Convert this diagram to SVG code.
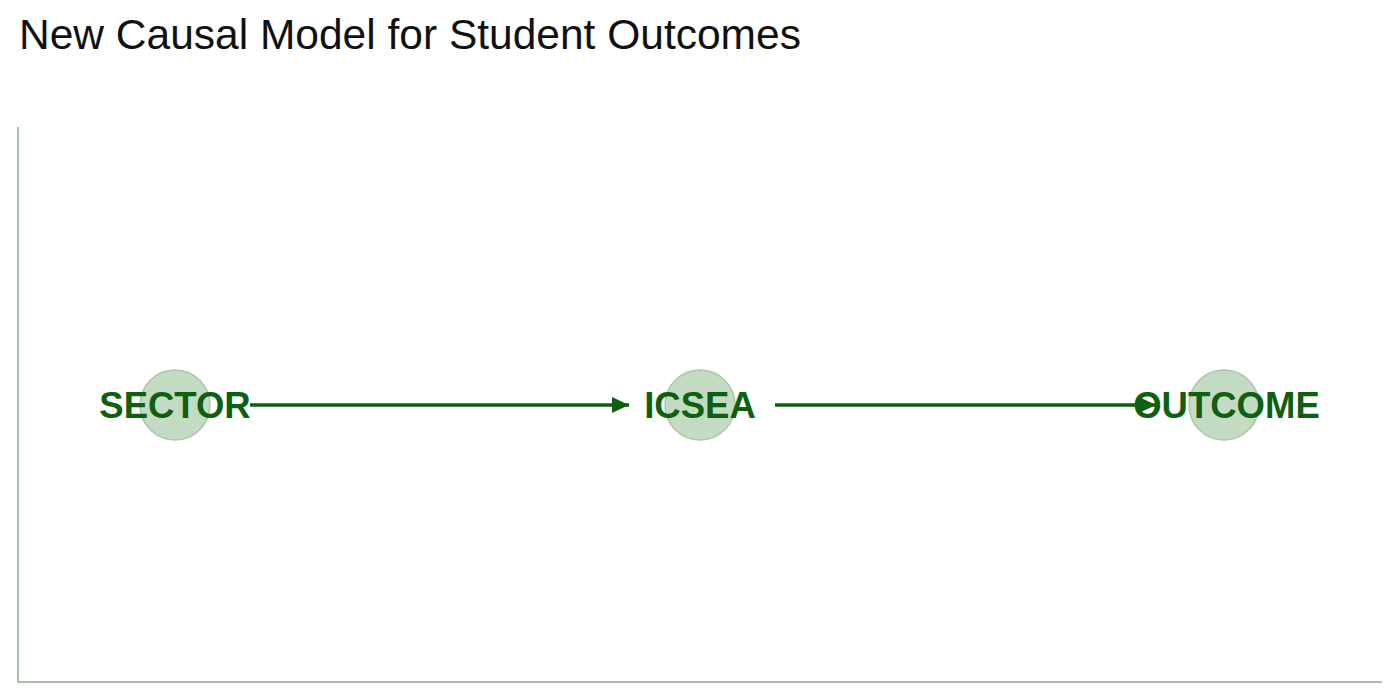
<svg xmlns="http://www.w3.org/2000/svg" width="1400" height="700" viewBox="0 0 1400 700">
<style>
.title{font-family:"Liberation Sans",Arial,sans-serif;font-size:42.5px;fill:#111}
.node circle{fill:#c3dbc3;stroke:#a9c7a9;stroke-width:1.5}
.node text{font-family:"Liberation Sans",Arial,sans-serif;font-size:36.5px;font-weight:bold;fill:#0d600f;text-anchor:middle}
.edge{stroke:#0d600f;stroke-width:3.5;fill:none}
.axis{stroke:#a9bfa9;stroke-width:2;fill:none}
</style>
<defs>
<marker id="arr" viewBox="0 0 17 18" refX="17" refY="9" markerWidth="17" markerHeight="18" orient="auto" markerUnits="userSpaceOnUse">
<path d="M0,1 L17,9 L0,17 z" fill="#0d600f"/>
</marker>
</defs>
<rect width="1400" height="700" fill="#fff"/>
<text class="title" x="19" y="49">New Causal Model for Student Outcomes</text>
<path class="axis" d="M18,127 L18,682 L1382,682"/>
<g id="connectors">
<line class="edge" x1="250" y1="405" x2="629" y2="405" marker-end="url(#arr)"/>
<line class="edge" x1="775" y1="405" x2="1156" y2="405" marker-end="url(#arr)"/>
</g>
<g id="node-sector" class="node">
<circle cx="175" cy="405" r="35"/>
<text x="175" y="418">SECTOR</text>
</g>
<g id="node-icsea" class="node">
<circle cx="700" cy="405" r="35"/>
<text x="700" y="418">ICSEA</text>
</g>
<g id="node-outcome" class="node">
<circle cx="1224" cy="405" r="35"/>
<text x="1226.5" y="418">OUTCOME</text>
</g>
</svg>
